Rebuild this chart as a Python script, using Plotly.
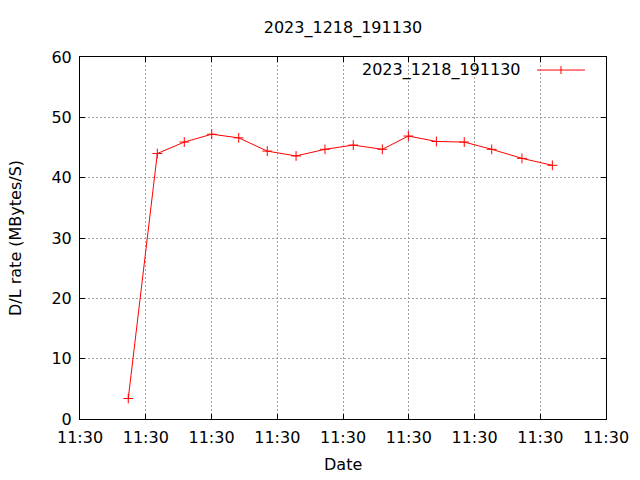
import plotly.graph_objects as go

# Data (time offset within 11:30, in seconds; rate in MBytes/S)
series_name = "2023_1218_191130"
seconds = [3.67, 5.88, 7.93, 10.02, 12.07, 14.24, 16.43, 18.63, 20.78, 22.99,
           24.97, 27.10, 29.22, 31.31, 33.61, 35.92]
rates = [3.4, 44.0, 45.9, 47.2, 46.6, 44.4, 43.6, 44.7, 45.4, 44.7,
         46.9, 46.0, 45.9, 44.7, 43.2, 42.05]
y_ticks = [0, 10, 20, 30, 40, 50, 60]
x_title = "Date"
y_title = "D/L rate (MBytes/S)"

base = "2023-12-18 11:30:"
times = [f"{base}{s:06.3f}" for s in seconds]

FONT = "DejaVu Sans"
FS = 16
# the page body adds an 8px offset, so the layout is shifted up-left by 8px
OFF = 8
fig = go.Figure()
fig.add_trace(go.Scatter(
    x=times, y=rates, mode="lines+markers", name=series_name,
    line=dict(color="#ff0000", width=1),
    marker=dict(symbol="cross-thin", size=7, line=dict(color="#ff0000", width=1)),
    showlegend=False,
))

axis_common = dict(
    showline=True, linecolor="black", linewidth=1, mirror="ticks",
    ticks="inside", ticklen=5, tickcolor="black",
    showgrid=True, gridcolor="#a0a0a0", griddash="2px,2px", gridwidth=1,
    zeroline=False, automargin=False,
    tickfont=dict(family=FONT, size=FS, color="black"),
)
fig.update_xaxes(
    type="date",
    range=[base + "00", base + "40"],
    dtick=5000, tick0=base + "00", tickformat="%H:%M",
    ticklabelstandoff=4,
    **axis_common,
)
fig.update_yaxes(range=[0, 60], tickvals=y_ticks, ticklabelstandoff=4, **axis_common)

# axis titles
fig.add_annotation(xref="paper", yref="paper", x=0.5, y=-0.127, xanchor="center", yanchor="middle",
                   text=x_title, showarrow=False, font=dict(family=FONT, size=FS, color="black"))
fig.add_annotation(xref="paper", yref="paper", x=-0.1236, y=0.5, xanchor="center", yanchor="middle",
                   text=y_title, textangle=-90, showarrow=False,
                   font=dict(family=FONT, size=FS, color="black"))

# gnuplot-style legend: text on the left, sample line on the right
fig.add_annotation(xref="paper", yref="paper", x=0.8422, y=0.964, xanchor="right", yanchor="middle",
                   text=series_name, showarrow=False, font=dict(family=FONT, size=FS, color="black"))
fig.add_shape(type="line", xref="paper", yref="paper", x0=0.8688, x1=0.960, y0=0.964, y1=0.964,
              line=dict(color="#ff0000", width=1))
fig.add_shape(type="line", xref="paper", yref="paper", x0=0.9144, x1=0.9144, y0=0.953, y1=0.975,
              line=dict(color="#ff0000", width=1))

fig.update_layout(
    width=640, height=480,
    paper_bgcolor="white", plot_bgcolor="white",
    margin=dict(l=80 - OFF, r=34 + OFF, t=57 - OFF, b=61 + OFF),
    title=dict(text=series_name, x=0.5, xref="paper", xanchor="center",
               y=1 - (27 - OFF) / 480, yanchor="middle", yref="container",
               font=dict(family=FONT, size=FS, color="black")),
)
fig.write_html("out.html")
